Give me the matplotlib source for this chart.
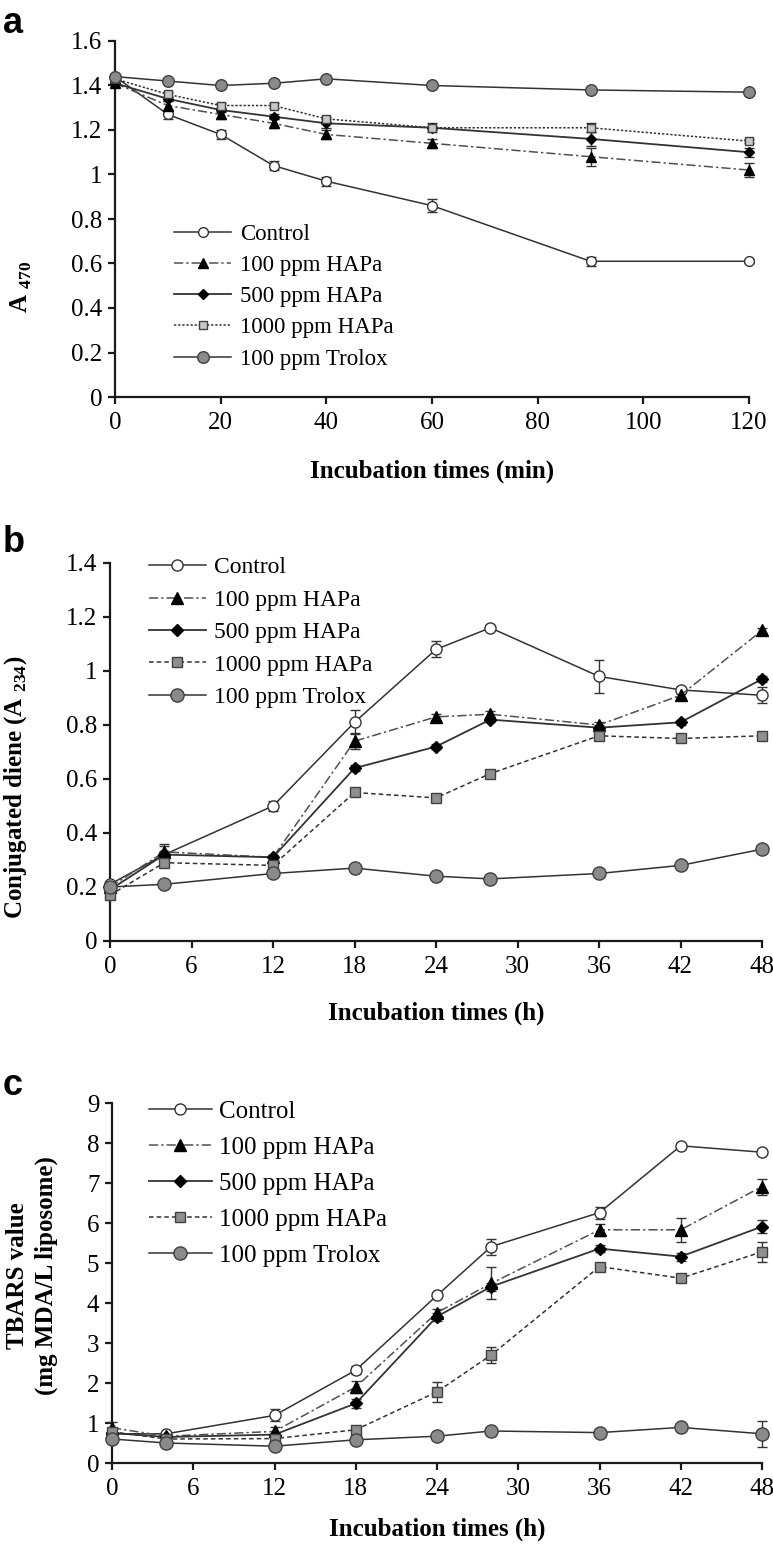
#!/usr/bin/env python3
"""
Three stacked panels: A470, conjugated diene, TBARS vs incubation time
"""

import matplotlib
matplotlib.use('Agg')
import matplotlib.pyplot as plt
from matplotlib.ticker import FuncFormatter

plt.rcParams['font.family'] = ['Liberation Serif', 'DejaVu Serif']
plt.rcParams['mathtext.fontset'] = 'custom'
plt.rcParams['mathtext.rm'] = 'Liberation Serif'
plt.rcParams['mathtext.bf'] = 'Liberation Serif:bold'

labels = ['Control', '100 ppm HAPa', '500 ppm HAPa', '1000 ppm HAPa', '100 ppm Trolox']

# panel a: A470 vs time (min)
time_a = [0, 10, 20, 30, 40, 60, 90, 120]
a_control = [1.44, 1.27, 1.18, 1.04, 0.97, 0.86, 0.61, 0.61]
a_hapa100 = [1.41, 1.31, 1.27, 1.23, 1.18, 1.14, 1.08, 1.02]
a_hapa500 = [1.41, 1.34, 1.29, 1.26, 1.23, 1.21, 1.16, 1.10]
a_hapa1000 = [1.43, 1.36, 1.31, 1.31, 1.25, 1.21, 1.21, 1.15]
a_trolox = [1.44, 1.42, 1.40, 1.41, 1.43, 1.40, 1.38, 1.37]
a_err = [
    [0.01, 0.02, 0.02, 0.02, 0.02, 0.03, 0.02, 0.01],
    [0.01, 0.02, 0.02, 0.02, 0.02, 0.02, 0.04, 0.03],
    [0.01, 0.01, 0.01, 0.01, 0.02, 0.02, 0.03, 0.02],
    [0.01, 0.01, 0.01, 0.01, 0.01, 0.01, 0.02, 0.01],
    [0.01, 0.01, 0.01, 0.01, 0.01, 0.01, 0.01, 0.01],
]

# panel b: conjugated diene vs time (h)
time_h = [0, 4, 12, 18, 24, 28, 36, 42, 48]
b_control = [0.21, 0.32, 0.50, 0.81, 1.08, 1.16, 0.98, 0.93, 0.91]
b_hapa100 = [0.20, 0.33, 0.31, 0.74, 0.83, 0.84, 0.80, 0.91, 1.15]
b_hapa500 = [0.19, 0.32, 0.31, 0.64, 0.72, 0.82, 0.79, 0.81, 0.97]
b_hapa1000 = [0.17, 0.29, 0.28, 0.55, 0.53, 0.62, 0.76, 0.75, 0.76]
b_trolox = [0.20, 0.21, 0.25, 0.27, 0.24, 0.23, 0.25, 0.28, 0.34]
b_err = [
    [0.01, 0.03, 0.02, 0.045, 0.03, 0.01, 0.06, 0.01, 0.03],
    [0.01, 0.03, 0.01, 0.03, 0.01, 0.01, 0.01, 0.01, 0.01],
    [0.01, 0.01, 0.01, 0.01, 0.01, 0.01, 0.01, 0.01, 0.01],
    [0.01, 0.01, 0.01, 0.01, 0.01, 0.01, 0.01, 0.01, 0.01],
    [0.01, 0.01, 0.01, 0.01, 0.01, 0.01, 0.01, 0.01, 0.01],
]

# panel c: TBARS vs time (h)
c_control = [0.73, 0.73, 1.19, 2.32, 4.19, 5.41, 6.26, 7.93, 7.77]
c_hapa100 = [0.88, 0.67, 0.79, 1.90, 3.76, 4.49, 5.83, 5.83, 6.91]
c_hapa500 = [0.75, 0.65, 0.71, 1.49, 3.66, 4.41, 5.36, 5.16, 5.91]
c_hapa1000 = [0.78, 0.60, 0.61, 0.83, 1.78, 2.70, 4.91, 4.62, 5.28]
c_trolox = [0.60, 0.50, 0.42, 0.58, 0.67, 0.80, 0.76, 0.89, 0.73]
c_err = [
    [0.10, 0.05, 0.15, 0.10, 0.05, 0.20, 0.15, 0.08, 0.05],
    [0.15, 0.05, 0.10, 0.15, 0.10, 0.40, 0.15, 0.30, 0.20],
    [0.10, 0.05, 0.05, 0.12, 0.10, 0.10, 0.08, 0.10, 0.17],
    [0.10, 0.05, 0.05, 0.05, 0.25, 0.20, 0.08, 0.10, 0.25],
    [0.10, 0.05, 0.05, 0.05, 0.05, 0.10, 0.05, 0.05, 0.33],
]

LINE = '#333333'


def series_styles(square_fill, big):
    k = 1.0 if big else 0.88
    return [
        dict(ls='-', color=LINE, marker='o', mfc='white', mec=LINE, ms=8.0 * k, lw=1.1),
        dict(ls=(0, (6, 2, 1.5, 2)), color='#505050', marker='^', mfc='black', mec='black', ms=8.0 * k, lw=1.1),
        dict(ls='-', color=LINE, marker='D', mfc='black', mec='black', ms=6.2 * k, lw=1.3),
        dict(ls=(0, (3, 2)) if big else (0, (1.5, 1.2)), color=LINE, marker='s', mfc=square_fill,
             mec='#404040', ms=7.0 * k, lw=1.1),
        dict(ls='-', color=LINE, marker='o', mfc='#8a8a8a', mec='#404040', ms=9.5 * k, lw=1.1),
    ]


def draw_panel(ax, x, series, errs, styles, xmax, ymax, xticks, yticks):
    for vals, err, st, lab in zip(series, errs, styles, labels):
        ax.errorbar(x, vals, yerr=err, fmt='none', ecolor='#333333', elinewidth=1.0,
                    capsize=3.5, capthick=1.0, clip_on=False, zorder=3)
        ax.plot(x, vals, label=lab, clip_on=False, zorder=4, **st)
    ax.set_xlim(0, xmax)
    ax.set_ylim(0, ymax)
    ax.set_xticks(xticks)
    ax.set_yticks(yticks)
    ax.yaxis.set_major_formatter(FuncFormatter(lambda v, p: f'{v:g}'))
    for s in ['top', 'right']:
        ax.spines[s].set_visible(False)
    for s in ['left', 'bottom']:
        ax.spines[s].set_linewidth(1.6)
        ax.spines[s].set_color('#1a1a1a')
    ax.tick_params(direction='out', length=5, width=1.6, labelsize=18, color='#1a1a1a')
    ax.tick_params(axis='x', pad=6)
    ax.tick_params(axis='y', pad=4)


fig = plt.figure(figsize=(7.73, 15.5), dpi=100)
W, H = 773.0, 1550.0
ax_a = fig.add_axes([115 / W, 1 - 397 / H, (749 - 115) / W, (397 - 41) / H])
ax_b = fig.add_axes([110 / W, 1 - 941 / H, (762 - 110) / W, (941 - 563) / H])
ax_c = fig.add_axes([112 / W, 1 - 1463 / H, (762 - 112) / W, (1463 - 1103) / H])

draw_panel(ax_a, time_a, [a_control, a_hapa100, a_hapa500, a_hapa1000, a_trolox], a_err,
           series_styles('#c8c8c8', False), 120, 1.6,
           [0, 20, 40, 60, 80, 100, 120], [0, 0.2, 0.4, 0.6, 0.8, 1.0, 1.2, 1.4, 1.6])
draw_panel(ax_b, time_h, [b_control, b_hapa100, b_hapa500, b_hapa1000, b_trolox], b_err,
           series_styles('#8f8f8f', True), 48, 1.4,
           [0, 6, 12, 18, 24, 30, 36, 42, 48], [0, 0.2, 0.4, 0.6, 0.8, 1.0, 1.2, 1.4])
draw_panel(ax_c, time_h, [c_control, c_hapa100, c_hapa500, c_hapa1000, c_trolox], c_err,
           series_styles('#8f8f8f', True), 48, 9,
           [0, 6, 12, 18, 24, 30, 36, 42, 48], list(range(10)))

# legends
ax_a.legend(loc='upper left', bbox_to_anchor=(0.093, 0.486), frameon=False, fontsize=16.5,
            numpoints=1, borderpad=0, borderaxespad=0, handlelength=2.5,
            handletextpad=0.4, labelspacing=0.44)
ax_b.legend(loc='upper left', bbox_to_anchor=(0.06, 1.016), frameon=False, fontsize=17,
            numpoints=1, borderpad=0, borderaxespad=0, handlelength=2.4,
            handletextpad=0.34, labelspacing=0.46)
ax_c.legend(loc='upper left', bbox_to_anchor=(0.057, 1.008), frameon=False, fontsize=18,
            numpoints=1, borderpad=0, borderaxespad=0, handlelength=2.5,
            handletextpad=0.28, labelspacing=0.54)

# axis labels
lab_kw = dict(fontsize=18, fontweight='bold')
ax_a.set_xlabel('Incubation times (min)', **lab_kw)
ax_a.xaxis.set_label_coords(0.5, -(471 - 397) / 356)
ax_a.xaxis.label.set_va('center')
ax_b.set_xlabel('Incubation times (h)', **lab_kw)
ax_b.xaxis.set_label_coords(0.5, -(1013 - 941) / 378)
ax_b.xaxis.label.set_va('center')
ax_c.set_xlabel('Incubation times (h)', **lab_kw)
ax_c.xaxis.set_label_coords(0.5, -(1529 - 1463) / 360)
ax_c.xaxis.label.set_va('center')

ax_a.set_ylabel(r'A $_{\mathbf{470}}$', **lab_kw)
ax_a.yaxis.set_label_coords((21 - 115) / 634, (397 - 287) / 356)
ax_a.yaxis.label.set_va('center')
ax_b.set_ylabel(r'Conjugated diene (A $_{\mathbf{234}}$)', **lab_kw)
ax_b.yaxis.set_label_coords((16 - 110) / 652, (941 - 787) / 378)
ax_b.yaxis.label.set_va('center')
ax_c.set_ylabel('TBARS value\n(mg MDA/L liposome)', linespacing=1.3, **lab_kw)
ax_c.yaxis.set_label_coords((32 - 112) / 650, (1463 - 1276) / 360)
ax_c.yaxis.label.set_va('center')

# panel letters
for letter, ypix in [('a', 33), ('b', 552), ('c', 1095)]:
    fig.text(3 / W, 1 - ypix / H, letter, fontsize=26, fontweight='bold',
             family=['Liberation Sans', 'DejaVu Sans'], ha='left', va='baseline')

fig.savefig('out.png', dpi=100)
plt.close(fig)
